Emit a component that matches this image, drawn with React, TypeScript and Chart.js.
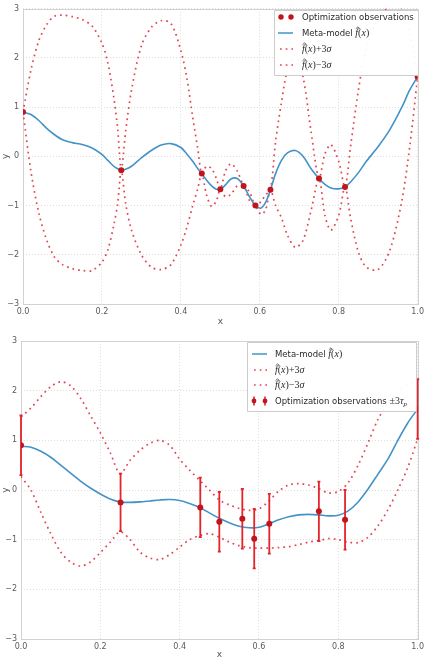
import React, { useEffect, useRef } from 'react';
import { Chart, registerables } from 'chart.js';
Chart.register(...registerables);

// ---------- Top panel: interpolating meta-model ----------
const topX = [0, 0.02, 0.04, 0.06, 0.08, 0.1, 0.125, 0.15, 0.175, 0.2, 0.215, 0.23, 0.24, 0.249, 0.26, 0.275, 0.3, 0.325, 0.35, 0.375, 0.4, 0.415, 0.43, 0.443, 0.453, 0.465, 0.478, 0.49, 0.5, 0.513, 0.527, 0.543, 0.559, 0.574, 0.589, 0.603, 0.615, 0.627, 0.64, 0.655, 0.67, 0.69, 0.71, 0.73, 0.75, 0.765, 0.78, 0.8, 0.816, 0.83, 0.85, 0.87, 0.9, 0.93, 0.96, 0.98, 1.0];
const topMean = [0.9, 0.85, 0.73, 0.57, 0.44, 0.34, 0.28, 0.24, 0.17, 0.04, -0.08, -0.2, -0.25, -0.28, -0.26, -0.2, -0.03, 0.12, 0.23, 0.26, 0.18, 0.05, -0.1, -0.25, -0.35, -0.48, -0.6, -0.67, -0.67, -0.58, -0.46, -0.45, -0.6, -0.82, -1.0, -1.05, -0.93, -0.68, -0.35, -0.08, 0.07, 0.12, 0.0, -0.25, -0.45, -0.57, -0.64, -0.66, -0.62, -0.52, -0.33, -0.1, 0.2, 0.55, 1.0, 1.35, 1.62];
const topUpper = [0.9, 1.75, 2.35, 2.68, 2.85, 2.87, 2.84, 2.78, 2.65, 2.3, 1.9, 1.2, 0.55, -0.28, 0.5, 1.35, 2.25, 2.62, 2.76, 2.7, 2.15, 1.6, 0.8, 0.15, -0.35, -0.2, -0.25, -0.45, -0.67, -0.3, -0.15, -0.3, -0.6, -0.72, -1.0, -0.92, -0.78, -0.68, 0.3, 1.1, 1.75, 2.05, 1.6, 0.5, -0.45, 0.05, 0.24, -0.1, -0.62, 0.2, 1.35, 2.2, 2.8, 3.05, 3.0, 2.5, 1.62];
const topLower = [0.9, -0.3, -1.15, -1.7, -2.05, -2.2, -2.28, -2.32, -2.32, -2.15, -1.9, -1.4, -0.95, -0.28, -0.95, -1.5, -2.0, -2.25, -2.3, -2.2, -1.8, -1.45, -1.0, -0.65, -0.35, -0.78, -1.02, -0.9, -0.67, -0.82, -0.77, -0.6, -0.6, -0.9, -1.0, -1.18, -1.08, -0.68, -1.0, -1.25, -1.6, -1.85, -1.7, -1.1, -0.45, -1.2, -1.5, -1.2, -0.62, -1.25, -1.95, -2.25, -2.3, -1.9, -0.9, 0.2, 1.62];
const topObsX = [0, 0.249, 0.453, 0.5, 0.559, 0.589, 0.627, 0.75, 0.816, 1.0];
const topObsY = [0.9, -0.28, -0.35, -0.67, -0.6, -1.0, -0.68, -0.45, -0.62, 1.62];

// ---------- Bottom panel: regressing meta-model ----------
const botX = [0, 0.025, 0.05, 0.075, 0.1, 0.125, 0.15, 0.175, 0.2, 0.225, 0.25, 0.275, 0.3, 0.325, 0.35, 0.375, 0.4, 0.425, 0.45, 0.475, 0.5, 0.525, 0.55, 0.575, 0.6, 0.625, 0.65, 0.675, 0.7, 0.725, 0.75, 0.775, 0.8, 0.825, 0.85, 0.875, 0.9, 0.925, 0.95, 0.975, 1.0];
const botMean = [0.88, 0.86, 0.78, 0.66, 0.5, 0.34, 0.18, 0.04, -0.08, -0.18, -0.24, -0.25, -0.24, -0.22, -0.2, -0.19, -0.21, -0.27, -0.35, -0.46, -0.57, -0.66, -0.73, -0.76, -0.75, -0.68, -0.6, -0.54, -0.5, -0.49, -0.5, -0.52, -0.51, -0.42, -0.24, 0.02, 0.32, 0.62, 1.0, 1.35, 1.63];
const botUpper = [1.47, 1.65, 1.88, 2.08, 2.18, 2.1, 1.85, 1.5, 1.15, 0.75, 0.33, 0.6, 0.8, 0.94, 1.0, 0.9, 0.62, 0.4, 0.2, 0.0, -0.2, -0.3, -0.37, -0.41, -0.38, -0.22, -0.02, 0.1, 0.13, 0.1, 0.03, -0.06, -0.03, 0.15, 0.5, 0.95, 1.42, 1.75, 1.98, 2.12, 2.2];
const botLower = [0.27, 0.0, -0.45, -0.88, -1.25, -1.45, -1.53, -1.45, -1.26, -1.05, -0.84, -1.0, -1.25, -1.37, -1.4, -1.3, -1.15, -1.0, -0.92, -0.88, -0.95, -1.05, -1.12, -1.16, -1.17, -1.17, -1.16, -1.14, -1.1, -1.05, -1.02, -0.98, -1.0, -1.05, -1.06, -0.95, -0.72, -0.4, 0.0, 0.45, 1.03];
const botObsX = [0, 0.251, 0.452, 0.5, 0.558, 0.588, 0.626, 0.751, 0.817, 1.0];
const botObsY = [0.9, -0.25, -0.35, -0.64, -0.58, -0.98, -0.68, -0.43, -0.6, 1.63];
const botObsErr = [0.6, 0.58, 0.6, 0.6, 0.6, 0.6, 0.6, 0.6, 0.6, 0.6];

const xTicks = [0, 0.2, 0.4, 0.6, 0.8, 1.0];
const yTicks = [-3, -2, -1, 0, 1, 2, 3];

const BLUE = '#4393c8';
const RED_DOT = 'rgba(224, 42, 55, 0.88)';
const RED_PT = '#c3141c';
const RED_BAR = '#e3242b';
const DOT_DASH = [1.7, 4];

const SANS = '8.5px "DejaVu Sans"';
const MI = 'italic 10px "Liberation Serif"';
const MR = '10px "Liberation Serif"';
const MIS = 'italic 7px "Liberation Serif"';

type Seg = { t: string; f: string; hat?: boolean; dy?: number };

const fx: Seg[] = [
  { t: 'f', f: MI, hat: true },
  { t: '(', f: MR },
  { t: 'x', f: MI },
  { t: ')', f: MR },
];

const pts = (xs: number[], ys: number[]) => xs.map((x, i) => ({ x, y: ys[i] }));

function drawRich(ctx: CanvasRenderingContext2D, segs: Seg[], x: number, y: number) {
  let cx = x;
  for (const s of segs) {
    ctx.font = s.f;
    ctx.fillText(s.t, cx, y + (s.dy || 0));
    const w = ctx.measureText(s.t).width;
    if (s.hat) {
      ctx.save();
      ctx.strokeStyle = ctx.fillStyle as string;
      ctx.lineWidth = 0.7;
      ctx.beginPath();
      ctx.moveTo(cx + 0.5, y - 7.2);
      ctx.lineTo(cx + w / 2 + 1.2, y - 9.2);
      ctx.lineTo(cx + w + 1.8, y - 7.2);
      ctx.stroke();
      ctx.restore();
    }
    cx += w;
  }
}

type Row = { marker: string; segs: Seg[] };
type LegendSpec = { left: number; top: number; right: number; bottom: number; rowY: number[]; mx0: number; mx1: number; tx: number; rows: Row[] };

function drawMarker(ctx: CanvasRenderingContext2D, kind: string, x0: number, x1: number, y: number) {
  ctx.save();
  if (kind === 'dots') {
    ctx.fillStyle = RED_PT;
    [x0 + 3, x1 - 2].forEach((cx) => { ctx.beginPath(); ctx.arc(cx, y, 2.7, 0, Math.PI * 2); ctx.fill(); });
  } else if (kind === 'line') {
    ctx.strokeStyle = BLUE; ctx.lineWidth = 1.5;
    ctx.beginPath(); ctx.moveTo(x0, y); ctx.lineTo(x1, y); ctx.stroke();
  } else if (kind === 'dotted') {
    ctx.strokeStyle = RED_DOT; ctx.lineWidth = 1.7; ctx.setLineDash(DOT_DASH);
    ctx.beginPath(); ctx.moveTo(x0 + 2, y); ctx.lineTo(x1, y); ctx.stroke();
  } else if (kind === 'errbar') {
    [x0 + 2, x1 - 2].forEach((cx) => {
      ctx.strokeStyle = RED_BAR; ctx.lineWidth = 1.6;
      ctx.beginPath(); ctx.moveTo(cx, y - 4.5); ctx.lineTo(cx, y + 4.5); ctx.stroke();
      ctx.fillStyle = RED_PT;
      ctx.beginPath(); ctx.arc(cx, y, 2.4, 0, Math.PI * 2); ctx.fill();
    });
  }
  ctx.restore();
}

function legendPlugin(id: string, L: LegendSpec) {
  return {
    id,
    afterDraw(chart: any) {
      const ctx: CanvasRenderingContext2D = chart.ctx;
      ctx.save();
      ctx.fillStyle = 'rgba(255,255,255,0.95)';
      ctx.strokeStyle = '#cccccc';
      ctx.lineWidth = 1;
      ctx.beginPath();
      ctx.rect(L.left + 0.5, L.top + 0.5, L.right - L.left, L.bottom - L.top);
      ctx.fill();
      ctx.stroke();
      L.rows.forEach((row, i) => {
        const y = L.rowY[i];
        drawMarker(ctx, row.marker, L.mx0, L.mx1, y);
        ctx.fillStyle = '#2a2a2a';
        ctx.textBaseline = 'alphabetic';
        ctx.textAlign = 'left';
        drawRich(ctx, row.segs, L.tx, y + 3);
      });
      ctx.restore();
    },
  };
}

const framePlugin = {
  id: 'frame',
  beforeDatasetsDraw(chart: any) {
    const { ctx, chartArea: a } = chart;
    ctx.save();
    ctx.strokeStyle = '#d2d2d2';
    ctx.lineWidth = 1;
    ctx.strokeRect(Math.round(a.left) + 0.5, Math.round(a.top) + 0.5, Math.round(a.right - a.left), Math.round(a.bottom - a.top));
    ctx.restore();
  },
};

const errorBarPlugin = {
  id: 'errbars',
  beforeDatasetDraw(chart: any, args: any) {
    if (args.index !== 0) return;
    const xs = chart.scales.x, ys = chart.scales.y, ctx: CanvasRenderingContext2D = chart.ctx;
    ctx.save();
    ctx.strokeStyle = RED_BAR;
    ctx.lineWidth = 1.8;
    botObsX.forEach((x, i) => {
      const px = xs.getPixelForValue(x);
      const y0 = ys.getPixelForValue(botObsY[i] - botObsErr[i]);
      const y1 = ys.getPixelForValue(botObsY[i] + botObsErr[i]);
      ctx.beginPath();
      ctx.moveTo(px, y0); ctx.lineTo(px, y1);
      ctx.moveTo(px - 1.5, y0); ctx.lineTo(px + 1.5, y0);
      ctx.moveTo(px - 1.5, y1); ctx.lineTo(px + 1.5, y1);
      ctx.stroke();
    });
    ctx.restore();
  },
};

const tickFont = { family: 'DejaVu Sans', size: 8 };
const tickColor = '#5a5a5a';

function scales(yWidth: number, xHeight: number, titleBottom: number) {
  return {
    x: {
      type: 'linear', min: 0, max: 1,
      afterBuildTicks: (s: any) => { s.ticks = xTicks.map((v) => ({ value: v })); },
      afterFit: (s: any) => { s.height = xHeight; },
      ticks: { callback: (v: any) => Number(v).toFixed(1), font: tickFont, color: tickColor, padding: 3, maxRotation: 0, autoSkip: false },
      grid: { color: '#dedede', drawTicks: false, lineWidth: 1 },
      border: { display: false, dash: [1, 2] },
      title: { display: true, text: 'x', font: { family: 'DejaVu Sans', size: 9, lineHeight: 1 }, color: '#555', padding: { top: 0, bottom: titleBottom } },
    },
    y: {
      type: 'linear', min: -3, max: 3,
      afterBuildTicks: (s: any) => { s.ticks = yTicks.map((v) => ({ value: v })); },
      afterFit: (s: any) => { s.width = yWidth; },
      ticks: { callback: (v: any) => (v < 0 ? '\u2212' + Math.abs(v) : String(v)), font: tickFont, color: tickColor, padding: 4, autoSkip: false },
      grid: { color: '#dedede', drawTicks: false, lineWidth: 1 },
      border: { display: false, dash: [1, 2] },
      title: { display: true, text: 'y', font: { family: 'DejaVu Sans', size: 9, lineHeight: 1 }, color: '#555', padding: { top: 1, bottom: 0 } },
    },
  };
}

function lineDs(xs: number[], ys: number[], color: string, dash: number[] | undefined, width: number) {
  return {
    data: pts(xs, ys), borderColor: color, borderWidth: width, borderDash: dash || [],
    pointRadius: 0, tension: 0.3, fill: false, showLine: true, clip: 0,
  };
}

function topConfig(): any {
  return {
    type: 'line',
    data: {
      datasets: [
        { data: pts(topObsX, topObsY), showLine: false, pointRadius: 3, backgroundColor: RED_PT, borderWidth: 0, pointHoverRadius: 3 },
        lineDs(topX, topMean, BLUE, undefined, 1.6),
        lineDs(topX, topUpper, RED_DOT, DOT_DASH, 1.7),
        lineDs(topX, topLower, RED_DOT, DOT_DASH, 1.7),
      ],
    },
    options: {
      responsive: false, animation: false, devicePixelRatio: 1,
      layout: { padding: { top: 7, right: 7, left: 0, bottom: 0 } },
      plugins: { legend: { display: false }, tooltip: { enabled: false } },
      scales: scales(23, 26, 4),
    },
    plugins: [
      framePlugin,
      legendPlugin('legTop', {
        left: 274, top: 10, right: 418, bottom: 75, rowY: [17, 33, 49, 65], mx0: 278, mx1: 293, tx: 302,
        rows: [
          { marker: 'dots', segs: [{ t: 'Optimization observations', f: SANS }] },
          { marker: 'line', segs: [{ t: 'Meta-model ', f: SANS }, ...fx] },
          { marker: 'dotted', segs: [...fx, { t: '+3', f: MR }, { t: 'σ', f: MI }] },
          { marker: 'dotted', segs: [...fx, { t: '\u22123', f: MR }, { t: 'σ', f: MI }] },
        ],
      }),
    ],
  };
}

function bottomConfig(): any {
  return {
    type: 'line',
    data: {
      datasets: [
        { data: pts(botObsX, botObsY), showLine: false, pointRadius: 3, backgroundColor: RED_PT, borderWidth: 0, pointHoverRadius: 3 },
        lineDs(botX, botMean, BLUE, undefined, 1.6),
        lineDs(botX, botUpper, RED_DOT, DOT_DASH, 1.7),
        lineDs(botX, botLower, RED_DOT, DOT_DASH, 1.7),
      ],
    },
    options: {
      responsive: false, animation: false, devicePixelRatio: 1,
      layout: { padding: { top: 11, right: 9, left: 0, bottom: 0 } },
      plugins: { legend: { display: false }, tooltip: { enabled: false } },
      scales: scales(21, 20, 0),
    },
    plugins: [
      framePlugin,
      errorBarPlugin,
      legendPlugin('legBot', {
        left: 247, top: 12, right: 416, bottom: 81, rowY: [24, 40, 55, 71], mx0: 252, mx1: 267, tx: 275,
        rows: [
          { marker: 'line', segs: [{ t: 'Meta-model ', f: SANS }, ...fx] },
          { marker: 'dotted', segs: [...fx, { t: '+3', f: MR }, { t: 'σ', f: MI }] },
          { marker: 'dotted', segs: [...fx, { t: '\u22123', f: MR }, { t: 'σ', f: MI }] },
          { marker: 'errbar', segs: [{ t: 'Optimization observations ', f: SANS }, { t: '±3', f: MR }, { t: 'τ', f: MI }, { t: 'p', f: MIS, dy: 2 }] },
        ],
      }),
    ],
  };
}

function ChartCanvas({ make, top, height }: { make: () => any; top: number; height: number }) {
  const ref = useRef<HTMLCanvasElement>(null);
  useEffect(() => {
    const chart = new Chart(ref.current as HTMLCanvasElement, make());
    return () => chart.destroy();
  }, []);
  return (
    <div style={{ position: 'absolute', left: 0, top, width: 427, height }}>
      <canvas ref={ref} width={427} height={height} style={{ display: 'block', width: 427, height }} />
    </div>
  );
}

export default function App() {
  return (
    <div style={{ position: 'absolute', left: 0, top: 0, width: 427, height: 659, background: '#fff', overflow: 'hidden' }}>
      <ChartCanvas make={topConfig} top={0} height={330} />
      <ChartCanvas make={bottomConfig} top={330} height={329} />
    </div>
  );
}
